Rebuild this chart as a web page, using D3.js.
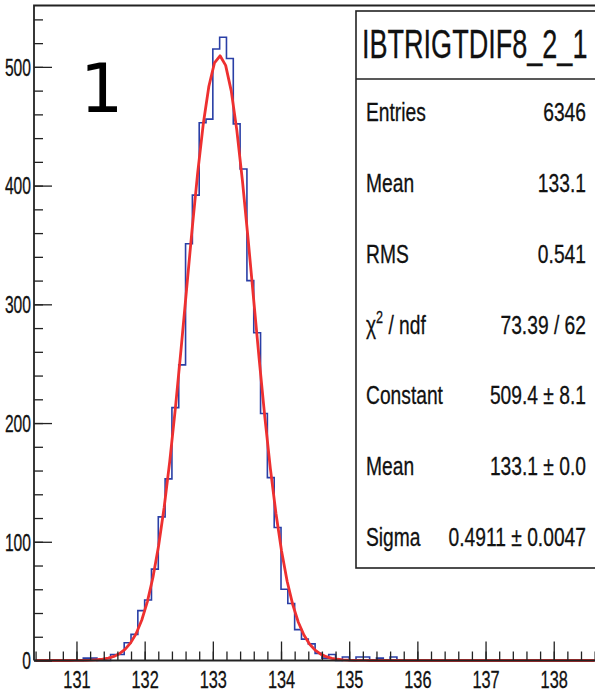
<!DOCTYPE html>
<html>
<head>
<meta charset="utf-8">
<script src="https://cdn.jsdelivr.net/npm/d3@7"></script>
<style>
  body { margin: 0; background: #fff; }
  svg { display: block; }
</style>
</head>
<body>
<div id="chart"></div>
<script>
// histogram: 0.1 wide bins, first one starts at 131.1 (everything else is empty)
var firstBin = 131.1;
var binWidth = 0.1;
var counts = [2, 2, 0, 0, 5, 5, 15, 22, 42, 51,
              77, 121, 153, 213, 249, 351, 392, 453, 456, 515,
              525, 507, 452, 414, 320, 276, 208, 154, 112, 60,
              48, 26, 18, 14, 6, 2, 5, 0, 3, 0,
              3, 3, 0, 2, 0, 3];
var histRange = [130.4, 138.6];

// gaussian fit from the stats box
var fitConstant = 509.4;
var fitMean = 133.1;
var fitSigma = 0.4911;

var xMajor = [131, 132, 133, 134, 135, 136, 137, 138];
var yMajor = [0, 100, 200, 300, 400, 500];

var statsTitle = "IBTRIGTDIF8_2_1";
var statsLabels = ["Entries", "Mean", "RMS", "chi", "Constant", "Mean", "Sigma"];
var statsValues = ["6346", "133.1", "0.541", "73.39 / 62", "509.4 \u00b1 8.1", "133.1 \u00b1 0.0", "0.4911 \u00b1 0.0047"];

var W = 595, H = 691;
var pLeft = 34, pTop = 5.5, pBottom = 660.5, pRight = 596;

var svg = d3.select("#chart").append("svg")
  .attr("width", W)
  .attr("height", H);

var x = d3.scaleLinear().domain([130.377, 138.62]).range([pLeft, pRight]);
var y = d3.scaleLinear().domain([0, 551.7]).range([pBottom, pTop]);

var font = "'Liberation Sans', Arial, Helvetica, sans-serif";

// build the bins over the whole histogram range
var bins = [];
var nb = Math.round((histRange[1] - histRange[0]) / binWidth);
for (var i = 0; i < nb; i++) {
  var lo = +(histRange[0] + i * binWidth).toFixed(2);
  var k = Math.round((lo - firstBin) / binWidth);
  var c = (k >= 0 && k < counts.length) ? counts[k] : 0;
  bins.push({ lo: lo, hi: +(lo + binWidth).toFixed(2), c: c });
}

// step outline like ROOT draws it
var pts = [[x(bins[0].lo), y(0)]];
bins.forEach(function(b) {
  pts.push([x(b.lo), y(b.c)]);
  pts.push([x(b.hi), y(b.c)]);
});
pts.push([x(bins[bins.length - 1].hi), y(0)]);

svg.append("path")
  .attr("d", d3.line()(pts))
  .attr("fill", "none")
  .attr("stroke", "#2a3fa6")
  .attr("stroke-width", 1.6);

// fit curve
var gaus = function(v) {
  return fitConstant * Math.exp(-0.5 * Math.pow((v - fitMean) / fitSigma, 2));
};
var fx = d3.range(101).map(function(i) { return histRange[0] + i * (histRange[1] - histRange[0]) / 100; });
svg.append("path")
  .datum(fx)
  .attr("d", d3.line().x(function(d) { return x(d); }).y(function(d) { return y(gaus(d)); }))
  .attr("fill", "none")
  .attr("stroke", "#ee3030")
  .attr("stroke-width", 2.8)
  .attr("stroke-linejoin", "round");

// x axis: minor ticks then major ticks (pointing up into the plot)
svg.append("g")
  .attr("transform", "translate(0," + pBottom + ")")
  .call(d3.axisBottom(x).tickValues(x.ticks(40)).tickSize(-9).tickSizeOuter(0).tickFormat(""))
  .call(function(g) { g.select(".domain").remove(); });

var xAxis = svg.append("g")
  .attr("transform", "translate(0," + pBottom + ")")
  .call(d3.axisBottom(x).tickValues(xMajor).tickSize(-19).tickSizeOuter(0).tickPadding(10).tickFormat(d3.format("d")));
xAxis.select(".domain").remove();
xAxis.selectAll("text")
  .attr("font-family", font)
  .attr("font-size", 24)
  .attr("fill", "#111")
  .attr("stroke", "#111")
  .attr("stroke-width", 0.3)
  .attr("transform", "scale(0.68,1)");

// y axis
svg.append("g")
  .attr("transform", "translate(" + pLeft + ",0)")
  .call(d3.axisLeft(y).tickValues(d3.range(20, 551, 20)).tickSize(-9).tickSizeOuter(0).tickFormat(""))
  .call(function(g) { g.select(".domain").remove(); });

var yAxis = svg.append("g")
  .attr("transform", "translate(" + pLeft + ",0)")
  .call(d3.axisLeft(y).tickValues(yMajor).tickSize(-18).tickSizeOuter(0).tickPadding(3));
yAxis.select(".domain").remove();
yAxis.selectAll("text")
  .attr("font-family", font)
  .attr("font-size", 23)
  .attr("fill", "#111")
  .attr("stroke", "#111")
  .attr("stroke-width", 0.3)
  .attr("dy", "0.36em")
  .attr("x", -3 / 0.68)
  .attr("transform", "scale(0.68,1)");

svg.selectAll(".tick line").attr("stroke", "#222").attr("stroke-width", 1.3);

// frame
svg.append("path")
  .attr("d", "M" + pLeft + "," + pBottom + "V" + pTop + "H" + pRight + "M" + pLeft + "," + pBottom + "H" + pRight)
  .attr("fill", "none")
  .attr("stroke", "#222")
  .attr("stroke-width", 1.8);

// big label
svg.append("text")
  .attr("x", 80)
  .attr("y", 112)
  .attr("font-family", "'DejaVu Sans', sans-serif")
  .attr("font-size", 68)
  .attr("fill", "#000")
  .text("1");

// stats box
var bx = 356, by = 11, bw = 250, bh = 557;
svg.append("rect")
  .attr("x", bx).attr("y", by)
  .attr("width", bw).attr("height", bh)
  .attr("fill", "#fff")
  .attr("stroke", "#222")
  .attr("stroke-width", 1.6);
svg.append("line")
  .attr("x1", bx).attr("x2", bx + bw)
  .attr("y1", 79).attr("y2", 79)
  .attr("stroke", "#222")
  .attr("stroke-width", 1.6);

svg.append("text")
  .attr("transform", "translate(362,58) scale(0.66,1)")
  .attr("font-family", font)
  .attr("font-size", 41)
  .attr("fill", "#111")
  .attr("stroke", "#111")
  .attr("stroke-width", 0.3)
  .text(statsTitle);

var rowY = d3.scaleLinear().domain([0, 6]).range([121, 546]);
statsLabels.forEach(function(lab, i) {
  var t = svg.append("text")
    .attr("transform", "translate(366," + rowY(i) + ") scale(0.74,1)")
    .attr("font-family", font)
    .attr("font-size", 26)
    .attr("fill", "#111")
    .attr("stroke", "#111")
    .attr("stroke-width", 0.3);
  if (lab === "chi") {
    t.append("tspan").text("\u03c7");
    t.append("tspan").attr("font-size", 17).attr("dy", -11).text("2");
    t.append("tspan").attr("dy", 11).text(" / ndf");
  } else {
    t.text(lab);
  }
  svg.append("text")
    .attr("transform", "translate(586," + rowY(i) + ") scale(0.74,1)")
    .attr("text-anchor", "end")
    .attr("font-family", font)
    .attr("font-size", 26)
    .attr("fill", "#111")
    .attr("stroke", "#111")
    .attr("stroke-width", 0.3)
    .text(statsValues[i]);
});
</script>
</body>
</html>
